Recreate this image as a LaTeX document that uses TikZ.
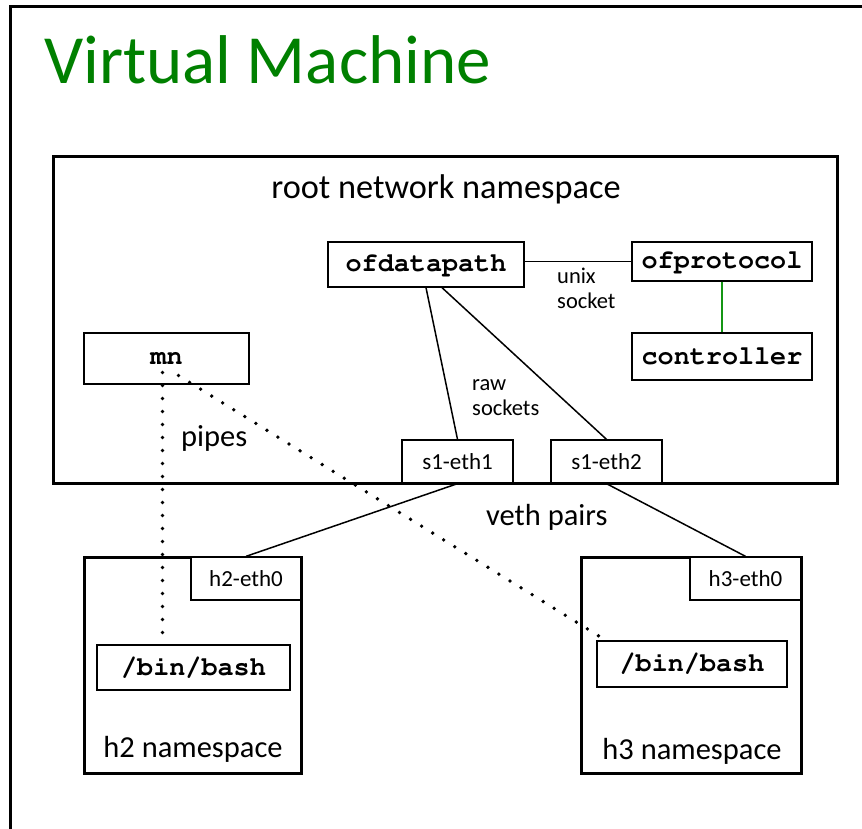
\documentclass[tikz,border=0pt]{standalone}
\usepackage[T1]{fontenc}
\usepackage{fontspec}
\setmainfont{Carlito}
\newcommand\monof{\fontencoding{T1}\fontfamily{pcr}\fontseries{b}\selectfont}
\usetikzlibrary{calc}
\definecolor{titlegreen}{RGB}{0,128,0}
\definecolor{linkgreen}{RGB}{20,150,20}
\tikzset{
  thickbox/.style={draw, line width=3pt, inner sep=0pt},
  thinbox/.style={draw, line width=1.3pt, inner sep=0pt, fill=white},
  codebox/.style={thinbox, font=\monof\fontsize{26.8}{28}\selectfont},
  ifbox/.style={thinbox, font=\fontsize{23}{25}\selectfont},
  conn/.style={line width=1.5pt},
  dots/.style={line width=3.8pt, line cap=round, dash pattern=on 0pt off 13pt},
  biglabel/.style={font=\fontsize{30.5}{32}\selectfont, inner sep=0pt},
  smalllabel/.style={font=\fontsize{22.5}{24}\selectfont, inner sep=0pt, anchor=base west},
}
\begin{document}
\begin{tikzpicture}[x=1pt,y=-1pt]
\useasboundingbox (0,0) rectangle (862,829);
\clip (0,0) rectangle (862,829);
% outer VM frame (cut by the picture edge)
\draw[line width=3pt] (10,900) -- (10,7) -- (900,7);
\node[anchor=base west, inner sep=0pt, text=titlegreen, font=\fontsize{69}{72}\selectfont] (title) at (44,84) {Virtual Machine};

% root namespace
\node[thickbox, minimum width=784pt, minimum height=326pt] (root) at (445,320) {};
\node[anchor=base, inner sep=0pt, font=\fontsize{34.3}{36}\selectfont] (rootlbl) at (446,199) {root network namespace};

\node[codebox, minimum width=196pt, minimum height=45pt] (ofdp) at (426,264.5) {ofdatapath};
\node[codebox, minimum width=180pt, minimum height=39pt] (ofpr) at (722,261.5) {ofprotocol};
\node[codebox, minimum width=180pt, minimum height=47pt] (ctrl) at (722,356.5) {controller};
\node[codebox, minimum width=165pt, minimum height=51pt] (mn) at (166.5,358.5) {mn};

\node[ifbox, minimum width=111pt, minimum height=43pt] (s1e1) at (457.5,461.5) {s1-eth1};
\node[ifbox, minimum width=111pt, minimum height=43pt] (s1e2) at (606.5,461.5) {s1-eth2};

\node[smalllabel] (unix) at (557,283) {unix};
\node[smalllabel] (socket) at (557,308) {socket};
\node[smalllabel] (raw) at (472,390) {raw};
\node[smalllabel] (rsock) at (472,415) {sockets};
\node[biglabel, anchor=base west] (pipes) at (181,446) {pipes};
\node[biglabel, anchor=base west] (veth) at (486,525) {veth pairs};

% hosts
\node[thickbox, minimum width=217pt, minimum height=216pt] (h2) at (192.5,665) {};
\node[ifbox, minimum width=110pt, minimum height=43pt] (h2e0) at (246,578.5) {h2-eth0};
\node[codebox, minimum width=193pt, minimum height=45pt] (bash2) at (193.5,667.5) {/bin/bash};
\node[biglabel, anchor=base] (h2lbl) at (193,757) {h2 namespace};

\node[thickbox, minimum width=220pt, minimum height=216pt] (h3) at (691,665) {};
\node[ifbox, minimum width=111pt, minimum height=43pt] (h3e0) at (745.5,578.5) {h3-eth0};
\node[codebox, minimum width=190pt, minimum height=46pt] (bash3) at (692,664) {/bin/bash};
\node[biglabel, anchor=base] (h3lbl) at (692,759) {h3 namespace};

% connectors
\draw[conn] (ofdp.east |- ofpr.west) -- (ofpr.west);
\draw[conn, linkgreen] (ofpr.south) -- (ctrl.north);
\draw[conn] (ofdp.south) -- (s1e1.north);
\draw[conn] ($(ofdp.south)+(16,0)$) -- (s1e2.north);
\draw[conn] (s1e1.south) -- (h2e0.north);
\draw[conn] (s1e2.south) -- (h3e0.north);

% pipes (dotted)
\coordinate (p0) at ($(mn.center)+(-4,14)$);
\coordinate (p1) at ($(mn.center)+(12,17)$);
\draw[dots] (p0) -- ($(p0 |- bash2.north)+(0,-5)$);
\draw[dots] (p1) -- ($(bash3.north west)+(3,-4)$);
\end{tikzpicture}
\end{document}
